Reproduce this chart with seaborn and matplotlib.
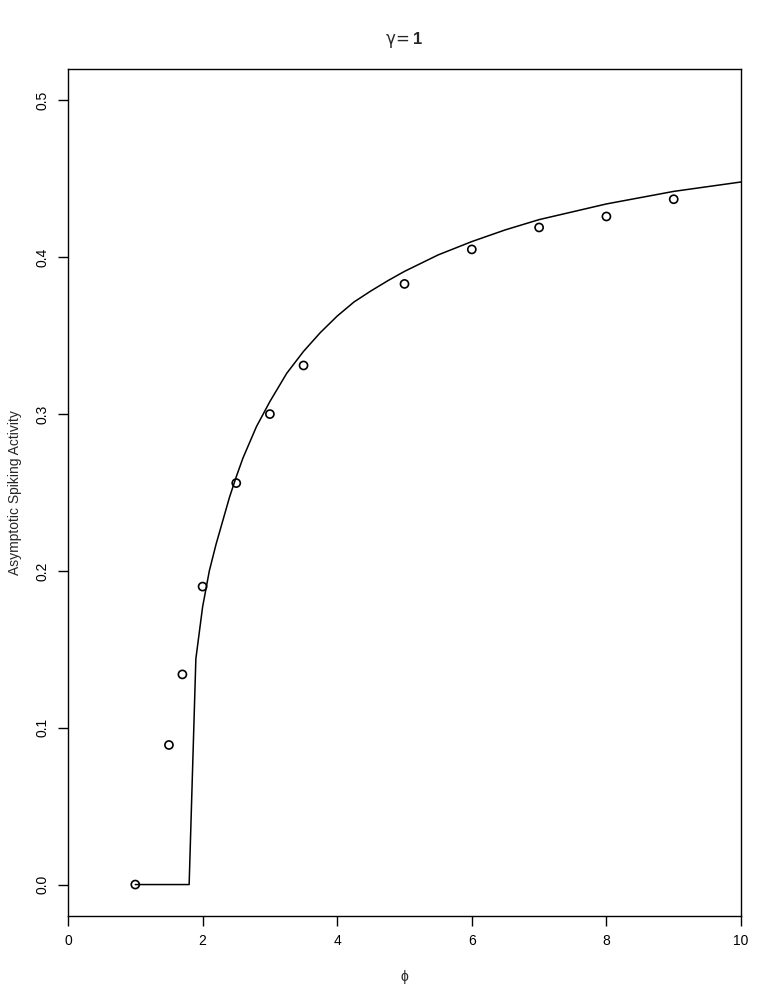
import numpy as np
import pandas as pd
import seaborn as sns
import matplotlib.pyplot as plt

phi_obs = [1.0, 1.5, 1.7, 2.0, 2.5, 3.0, 3.5, 5.0, 6.0, 7.0, 8.0, 9.0]
act_obs = [0.0, 0.089, 0.134, 0.190, 0.256, 0.300, 0.331, 0.383, 0.405, 0.419, 0.426, 0.437]

# Theoretical curve
phi_fit = [1.0, 1.8, 1.9, 2.0, 2.1, 2.2, 2.3, 2.4, 2.5, 2.6, 2.8, 3.0, 3.25, 3.5,
           3.75, 4.0, 4.25, 4.5, 4.75, 5.0, 5.5, 6.0, 6.5, 7.0, 7.5, 8.0, 8.5,
           9.0, 9.5, 10.0]
act_fit = [0.0, 0.0, 0.144, 0.177, 0.200, 0.217, 0.232, 0.247, 0.260, 0.272, 0.292,
           0.308, 0.326, 0.340, 0.352, 0.3625, 0.3715, 0.3785, 0.385, 0.391, 0.4015,
           0.410, 0.4175, 0.424, 0.429, 0.434, 0.438, 0.442, 0.445, 0.448]

x_ticks = [0, 2, 4, 6, 8, 10]
y_ticks = [0.0, 0.1, 0.2, 0.3, 0.4, 0.5]

obs = pd.DataFrame({"phi": phi_obs, "act": act_obs})
fit = pd.DataFrame({"phi": phi_fit, "act": act_fit})

sns.set_style("white")
plt.rcParams["font.family"] = ["Liberation Sans", "DejaVu Sans"]
plt.rcParams["mathtext.fontset"] = "custom"
plt.rcParams["mathtext.rm"] = "DejaVu Sans"
plt.rcParams["mathtext.bf"] = "Liberation Sans:bold"

fig = plt.figure(figsize=(7.77, 10.01), dpi=100)
ax = fig.add_axes([0.0875, 0.085, 0.8662, 0.846])

sns.lineplot(data=fit, x="phi", y="act", color="black", linewidth=1.1,
             sort=False, ax=ax)
sns.scatterplot(data=obs, x="phi", y="act", marker="o", s=34,
                facecolor="none", edgecolor="black", linewidth=1.2, ax=ax)

ax.set_xlim(0, 10)
ax.set_ylim(-0.02, 0.52)
ax.set_xticks(x_ticks)
ax.set_xticklabels([str(t) for t in x_ticks])
ax.set_yticks(y_ticks)
ax.set_yticklabels([f"{t:.1f}" for t in y_ticks], rotation=90, va="center")
ax.tick_params(direction="out", length=7, width=1, colors="black",
               labelsize=10, pad=6, bottom=True, left=True)

for s in ax.spines.values():
    s.set_color("black")
    s.set_linewidth(1)

ax.set_xlabel("ϕ", fontsize=10, labelpad=16)
ax.set_ylabel("Asymptotic Spiking Activity", fontsize=10, labelpad=10)
ax.set_title(r"$\mathrm{\gamma}\!=\mathbf{1}$", fontsize=12, pad=18)

plt.savefig("out.png", dpi=100)
